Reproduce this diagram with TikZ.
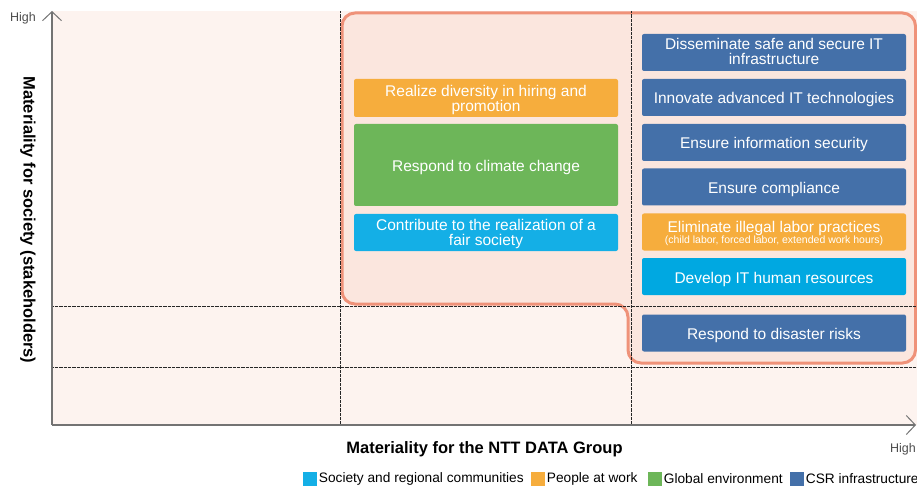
\documentclass[tikz,border=0pt]{standalone}
\usepackage{fontspec}
\setmainfont{Liberation Sans}
\usetikzlibrary{arrows.meta}

\definecolor{plotbg}{HTML}{FDF3EF}
\definecolor{zonefill}{HTML}{FBE6DE}
\definecolor{zoneline}{HTML}{EF9279}
\definecolor{csrblue}{HTML}{4470A9}
\definecolor{socblue}{HTML}{14AFE6}
\definecolor{devblue}{HTML}{00A8E1}
\definecolor{workorange}{HTML}{F6AD3D}
\definecolor{envgreen}{HTML}{6DB659}
\definecolor{axisgray}{HTML}{737373}
\definecolor{hightext}{HTML}{4D4D4D}

\begin{document}
\begin{tikzpicture}[x=1pt,y=-1pt]

      \tikzstyle{issue}=[rounded corners=2pt,text=white,align=center,
                         minimum width=264pt,minimum height=37pt,inner sep=0pt,
                         font=\fontsize{15.5}{15}\selectfont,
                         text height=13pt,text depth=0pt]
      \tikzstyle{grid}=[black!85,line width=0.5pt,dash pattern=on 0.5pt off 0.8pt]
      \tikzstyle{axis}=[axisgray,line width=1.3pt,
                        -{Straight Barb[length=9pt,width=19pt,line width=1pt]}]
      \tikzstyle{key}=[minimum size=14pt,inner sep=0pt]
      \tikzstyle{keylabel}=[inner sep=2pt,font=\fontsize{13.7}{14}\selectfont]

      \useasboundingbox (0,0) rectangle (917,486);

      % plot area and the material zone
      \fill[plotbg] (52,11) rectangle (917,425);
      \filldraw[fill=zonefill,draw=zoneline,line width=3pt,rounded corners=13pt]
          (342,13) -- (915.5,13) -- (915.5,363) -- (628,363)
          -- (628,304) -- (342,304) -- cycle;

      \draw[grid] (340,11) -- (340,425);
      \draw[grid] (631,11) -- (631,425);
      \draw[grid] (52,306) -- (917,306);
      \draw[grid] (52,367) -- (917,367);

      % axes
      \coordinate (origin) at (52,425);
      \coordinate (ytop) at (52,11);
      \coordinate (xend) at (916,425);
      \draw[axis] (origin) -- (ytop);
      \draw[axis] (origin) -- (xend);

      \node (yhigh) [hightext,font=\fontsize{12.5}{13}\selectfont] at (23,18) {High};
      \node (xhigh) [hightext,font=\fontsize{12.5}{13}\selectfont] at (903,449) {High};
      \node (yname) [rotate=-90,font=\fontsize{16.5}{17}\bfseries] at (28,220)
          {Materiality for society (stakeholders)};
      \node (xname) [font=\fontsize{16.5}{17}\bfseries] at (484.5,449)
          {Materiality for the NTT DATA Group};

      % issues, middle column
      \node (diversity) [issue,fill=workorange,minimum height=38pt,text height=28pt]
          at (486,98) {Realize diversity in hiring and\\promotion};
      \node (climate) [issue,fill=envgreen,minimum height=82pt] at (486,165)
          {Respond to climate change};
      \node (fairsoc) [issue,fill=socblue,text height=25pt] at (486,232.5)
          {Contribute to the realization of a\\fair society};

      % issues, right column
      \node (infra) [issue,fill=csrblue,text height=25pt] at (774,52.5)
          {Disseminate safe and secure IT\\infrastructure};
      \node (innovate) [issue,fill=csrblue] at (774,97.5)
          {Innovate advanced IT technologies};
      \node (infosec) [issue,fill=csrblue] at (774,142.5)
          {Ensure information security};
      \node (comply) [issue,fill=csrblue] at (774,187)
          {Ensure compliance};
      \node (labor) [issue,fill=workorange,text height=22.6pt] at (774,232)
          {Eliminate illegal labor practices\\[-4.4pt]
           {\fontsize{10.5}{11}\selectfont (child labor, forced labor, extended work hours)}};
      \node (itpeople) [issue,fill=devblue] at (774,276.5)
          {Develop IT human resources};
      \node (disaster) [issue,fill=csrblue] at (774,333)
          {Respond to disaster risks};

      % legend
      \node (keysoc) [key,fill=socblue,
          label={[keylabel]right:Society and regional communities}] at (309.5,479) {};
      \node (keywork) [key,fill=workorange,
          label={[keylabel]right:People at work}] at (537.5,479) {};
      \node (keyenv) [key,fill=envgreen,
          label={[keylabel]right:Global environment}] at (654.5,479) {};
      \node (keycsr) [key,fill=csrblue,
          label={[keylabel]right:CSR infrastructure}] at (796.5,479) {};

\end{tikzpicture}
\end{document}
